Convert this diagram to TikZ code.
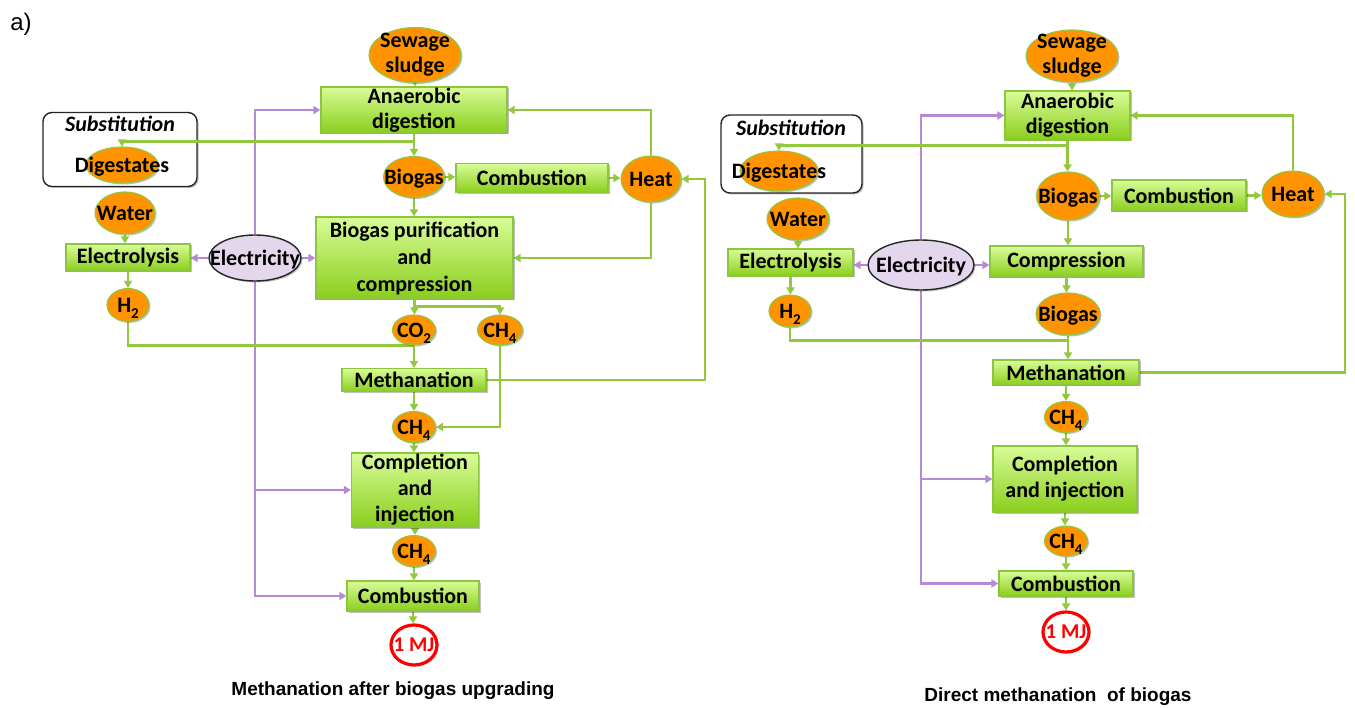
\documentclass[tikz,border=0pt]{standalone}
\usepackage{fontspec}
\setmainfont{Carlito}
\newfontfamily\capfont{Liberation Sans}
\usetikzlibrary{shapes.geometric,arrows.meta,shadows}

\definecolor{lgreen}{RGB}{146,200,62}
\definecolor{bxtop}{RGB}{216,252,152}
\definecolor{bxbot}{RGB}{138,206,28}
\definecolor{bxborder}{RGB}{140,198,63}
\definecolor{orng}{RGB}{255,147,0}
\definecolor{lpurp}{RGB}{181,137,214}
\definecolor{elfill}{RGB}{228,214,236}

\newcommand\zt[2][-0.33em]{\makebox[0pt]{\raisebox{#1}[0pt][0pt]{#2}}}
\newcommand\sbs[1]{\raisebox{-0.3em}{\fontsize{15}{15}\selectfont #1}}

\pgfdeclarelayer{bgwhite}
\pgfdeclarelayer{lines}
\pgfsetlayers{bgwhite,lines,main}

\tikzset{
  shad/.style={drop shadow={shadow xshift=1.5pt, shadow yshift=-1.5pt, opacity=0.25, fill=black}},
  proc/.style={rectangle, draw=bxborder, line width=1.2pt, top color=bxtop, bottom color=bxbot,
     inner sep=0pt, align=center, font=\fontsize{22}{25}\selectfont\bfseries, shad},
  mat/.style={ellipse, draw=lgreen, line width=1.1pt, fill=orng, inner sep=0pt,
     font=\fontsize{22}{25}\selectfont\bfseries, shad},
  elec/.style={ellipse, draw=black!85, line width=1.4pt, fill=elfill, inner sep=0pt,
     font=\fontsize{22}{25}\selectfont\bfseries, shad},
  mjnode/.style={ellipse, draw=red, line width=3.2pt, fill=white, inner sep=0pt, text=red,
     font=\fontsize{21}{22}\selectfont\bfseries, shad},
  subst/.style={rectangle, rounded corners=9pt, draw=black!85, line width=1.4pt, fill=white, shad},
  stext/.style={font=\fontsize{22}{25}\selectfont\bfseries\itshape, inner sep=0pt},
  ga/.style={draw=lgreen, line width=2.2pt, -{Triangle[length=7pt,width=8pt]}},
  gl/.style={draw=lgreen, line width=2.2pt},
  pa/.style={draw=lpurp, line width=2.2pt, -{Triangle[length=7pt,width=8pt]}},
  capt/.style={font=\capfont\fontsize{19}{22}\selectfont\bfseries, inner sep=0pt},
}

\begin{document}
\begin{tikzpicture}[x=1pt,y=-1pt]
\begin{pgfonlayer}{bgwhite}
\fill[white] (0,0) rectangle (1355,708);
\end{pgfonlayer}
\useasboundingbox (0,0) rectangle (1355,708);

\node[font=\capfont\fontsize{24}{26}\selectfont, inner sep=0pt] (lbl) at (21,24) {a)};

% ---------------- left diagram ----------------
\node[mat, minimum width=92pt, minimum height=55pt] (sew1) at (415,55)
  {\zt[-0.25em]{\begin{tabular}{@{}c@{}}Sewage\\sludge\end{tabular}}};
\node[proc, minimum width=186pt, minimum height=46pt] (ad1) at (414,110) {Anaerobic\\digestion};
\node[subst, minimum width=154pt, minimum height=74pt] (sub1) at (120,149.5) {};
\node[stext] (st1) at (120,124) {Substitution};
\node[mat, minimum width=72pt, minimum height=36pt] (dig1) at (122,165) {\zt{Digestates}};
\node[mat, minimum width=61pt, minimum height=41pt] (bg1) at (414,177) {\zt{Biogas}};
\node[proc, minimum width=152pt, minimum height=29pt] (cb1) at (532,178) {Combustion};
\node[mat, minimum width=60pt, minimum height=46pt] (ht1) at (651,179) {\zt{Heat}};
\node[proc, minimum width=197pt, minimum height=82pt, font=\fontsize{22}{27}\selectfont\bfseries] (bp1) at (414.5,258)
  {Biogas purification\\and\\compression};
\node[mat, minimum width=60pt, minimum height=42pt] (wt1) at (125,213) {\zt{Water}};
\node[proc, minimum width=124pt, minimum height=27pt] (el1) at (128,257.5) {Electrolysis};
\node[elec, minimum width=92pt, minimum height=46pt] (ec1) at (255,258) {\zt{Electricity}};
\node[mat, minimum width=42pt, minimum height=33pt] (h21) at (128,305) {\zt{H\sbs{2}}};
\node[mat, minimum width=43pt, minimum height=30pt] (co21) at (414,330) {\zt{CO\sbs{2}}};
\node[mat, minimum width=45pt, minimum height=30pt] (ch4r) at (500,330) {\zt{CH\sbs{4}}};
\node[proc, minimum width=144pt, minimum height=23pt] (mt1) at (414,380) {Methanation};
\node[mat, minimum width=43pt, minimum height=31pt] (ch41) at (414,427) {\zt{CH\sbs{4}}};
\node[proc, minimum width=127pt, minimum height=74pt, font=\fontsize{22}{26}\selectfont\bfseries] (ci1) at (415,490)
  {Completion\\and\\injection};
\node[mat, minimum width=43pt, minimum height=31pt] (ch42) at (414,551) {\zt{CH\sbs{4}}};
\node[proc, minimum width=132pt, minimum height=30pt] (cb12) at (413,596) {Combustion};
\node[mjnode, minimum width=46pt, minimum height=40pt] (mj1) at (414,645) {\zt{1 MJ}};
\node[capt] (cap1) at (393,691) {Methanation after biogas upgrading};
\coordinate (rt1) at (705,0);

% ---------------- right diagram ----------------
\node[mat, minimum width=92pt, minimum height=52pt] (sew2) at (1072,56)
  {\zt[-0.25em]{\begin{tabular}{@{}c@{}}Sewage\\sludge\end{tabular}}};
\node[proc, minimum width=125pt, minimum height=49pt] (ad2) at (1067.5,115.5) {Anaerobic\\digestion};
\node[subst, minimum width=141pt, minimum height=78pt] (sub2) at (791.5,154) {};
\node[stext] (st2) at (791,128) {Substitution};
\node[mat, minimum width=78pt, minimum height=40pt] (dig2) at (779,171) {\zt{Digestates}};
\node[mat, minimum width=63pt, minimum height=48pt] (bg2) at (1068,196) {\zt{Biogas}};
\node[proc, minimum width=134pt, minimum height=31pt] (cb2) at (1179,195.5) {Combustion};
\node[mat, minimum width=62pt, minimum height=46pt] (ht2) at (1293,194) {\zt{Heat}};
\node[mat, minimum width=62pt, minimum height=42pt] (wt2) at (798,219) {\zt{Water}};
\node[proc, minimum width=125pt, minimum height=27pt] (el2) at (790.5,262.5) {Electrolysis};
\node[elec, minimum width=106pt, minimum height=50pt] (ec2) at (921,265) {\zt{Electricity}};
\node[proc, minimum width=153pt, minimum height=31pt] (cp2) at (1066.5,261.5) {Compression};
\node[mat, minimum width=42pt, minimum height=32pt] (h22) at (790,311) {\zt{H\sbs{2}}};
\node[mat, minimum width=64pt, minimum height=42pt] (bg22) at (1068,314) {\zt{Biogas}};
\node[proc, minimum width=146pt, minimum height=25pt] (mt2) at (1066,372.5) {Methanation};
\node[mat, minimum width=43pt, minimum height=31pt] (ch43) at (1066,417) {\zt{CH\sbs{4}}};
\node[proc, minimum width=144pt, minimum height=66pt, font=\fontsize{22}{26}\selectfont\bfseries] (ci2) at (1065,479)
  {Completion\\and injection};
\node[mat, minimum width=43pt, minimum height=30pt] (ch44) at (1066,541) {\zt{CH\sbs{4}}};
\node[proc, minimum width=134pt, minimum height=25pt] (cb22) at (1066,583.5) {Combustion};
\node[mjnode, minimum width=46pt, minimum height=40pt] (mj2) at (1066,632) {\zt{1 MJ}};
\node[capt] (cap2) at (1058,697) {Direct methanation\ \ of biogas};
\coordinate (rt2) at (1345,0);

% digestate connectors drawn above the substitution boxes
\draw[ga] ([yshift=-8pt]ad1.south) -| (dig1.north);
\draw[ga] ([yshift=-5pt]ad2.south) -| (dig2.north);

\begin{pgfonlayer}{lines}
% left connectors
\draw[ga] (sew1.south) -- (sew1.south |- ad1.north);
\draw[ga] (ad1.south) -- (ad1.south |- bg1.north);
\draw[ga] (bg1.east) -- (bg1.east -| cb1.west);
\draw[ga] (cb1.east) -- (cb1.east -| ht1.west);
\draw[ga] (ht1.north) |- (ad1.east);
\draw[ga] (ht1.south) |- (bp1.east);
\draw[ga] (bg1.south) -- (bg1.south |- bp1.north);
\draw[ga] (wt1.south) -- (wt1.south |- el1.north);
\draw[pa] (ec1.west) -- (ec1.west -| el1.east);
\draw[pa] (ec1.east) -- (ec1.east -| bp1.west);
\draw[pa] (ec1.north) |- (ad1.west);
\draw[pa] (ec1.south) |- (cb12.west);
\draw[pa] (ec1.south |- ci1.west) -- (ci1.west);
\draw[ga] (el1.south) -- (el1.south |- h21.north);
\draw[gl] (h21.south) |- (co21.south);
\draw[ga] (bp1.south) -- (bp1.south |- co21.north);
\draw[ga] ([yshift=-7pt]bp1.south) -| (ch4r.north);
\draw[ga] (co21.south) -- (co21.south |- mt1.north);
\draw[ga] (mt1.east) -| (rt1 |- ht1.east) -- (ht1.east);
\draw[ga] (mt1.south) -- (mt1.south |- ch41.north);
\draw[ga] (ch4r.south) |- (ch41.east);
\draw[ga] (ch41.south) -- (ch41.south |- ci1.north);
\draw[ga] (ci1.south) -- (ci1.south |- ch42.north);
\draw[ga] (ch42.south) -- (ch42.south |- cb12.north);
\draw[ga] (cb12.south) -- (cb12.south |- mj1.north);
% right connectors
\draw[ga] (sew2.south) -- (sew2.south |- ad2.north);
\draw[ga] (ad2.south) -- (ad2.south |- bg2.north);
\draw[ga] (bg2.east) -- (bg2.east -| cb2.west);
\draw[ga] (cb2.east) -- (cb2.east -| ht2.west);
\draw[ga] (ht2.north) |- (ad2.east);
\draw[ga] (bg2.south) -- (bg2.south |- cp2.north);
\draw[ga] (wt2.south) -- (wt2.south |- el2.north);
\draw[pa] (ec2.west) -- (ec2.west -| el2.east);
\draw[pa] (ec2.east) -- (ec2.east -| cp2.west);
\draw[pa] (ec2.north) |- (ad2.west);
\draw[pa] (ec2.south) |- (cb22.west);
\draw[pa] (ec2.south |- ci2.west) -- (ci2.west);
\draw[ga] (el2.south) -- (el2.south |- h22.north);
\draw[ga] (cp2.south) -- (cp2.south |- bg22.north);
\draw[gl] (h22.south) |- ([yshift=-5pt]bg22.south);
\draw[ga] (bg22.south) -- (bg22.south |- mt2.north);
\draw[ga] (mt2.east) -| (rt2 |- ht2.east) -- (ht2.east);
\draw[ga] (mt2.south) -- (mt2.south |- ch43.north);
\draw[ga] (ch43.south) -- (ch43.south |- ci2.north);
\draw[ga] (ci2.south) -- (ci2.south |- ch44.north);
\draw[ga] (ch44.south) -- (ch44.south |- cb22.north);
\draw[ga] (cb22.south) -- (cb22.south |- mj2.north);
\end{pgfonlayer}
\end{tikzpicture}
\end{document}
